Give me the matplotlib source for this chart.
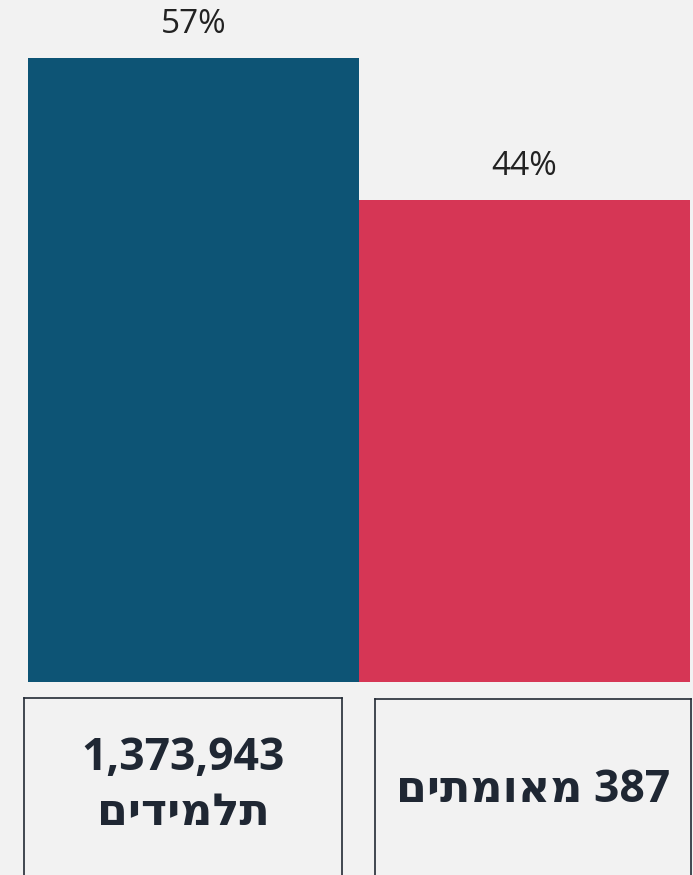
import matplotlib
matplotlib.use("Agg")
import matplotlib.pyplot as plt

# ── Data ─────────────────────────────────────────────
groups = ["students", "confirmed"]
values = [57, 44]
value_labels = ["57%", "44%"]
# Hebrew is given in visual (left-to-right) order since matplotlib has no bidi
box_labels = ["1,373,943\nםידימלת", "םיתמואמ 387"]

COLORS = ["#0d5475", "#d63655"]
BG = "#f2f2f2"
INK = "#1f2733"
FONT = ["Open Sans", "DejaVu Sans"]

W, H = 693, 875
fig = plt.figure(figsize=(W / 100, H / 100), dpi=100, facecolor=BG)

def fig_box(x0, y0, x1, y1):
    # pixel box (top-left origin) -> figure fraction rect
    return [x0 / W, 1 - y1 / H, (x1 - x0) / W, (y1 - y0) / H]

# ── Bars ─────────────────────────────────────────────
ax = fig.add_axes(fig_box(28, 0, 690, 682))
ax.set_facecolor(BG)
xs = list(range(len(values)))
ax.bar(xs, values, width=1.0, color=COLORS, edgecolor="none")
ax.set_xlim(-0.5, len(values) - 0.5)
ax.set_ylim(0, values[0] * 682 / 624)
for x, v, lab in zip(xs, values, value_labels):
    ax.text(x, v + 3.1, lab, ha="center", va="center",
            fontsize=24, color="#222222", family=FONT)
ax.axis("off")

# ── Label boxes under the bars ───────────────────────
box_px = [(24, 698, 342, 890), (375, 699, 691, 890)]
text_y = [0.54, 0.52]
for (x0, y0, x1, y1), lab, ty in zip(box_px, box_labels, text_y):
    bax = fig.add_axes(fig_box(x0, y0, x1, y1))
    bax.set_facecolor(BG)
    bax.set_xticks([])
    bax.set_yticks([])
    for s in bax.spines.values():
        s.set_color("#232a35")
        s.set_linewidth(1.2)
    bax.text(0.5, ty, lab, ha="center", va="center", fontsize=32,
             fontweight="bold", color=INK, family=FONT,
             linespacing=1.3, transform=bax.transAxes)

plt.savefig("out.png", dpi=100, facecolor=BG)
plt.close()
